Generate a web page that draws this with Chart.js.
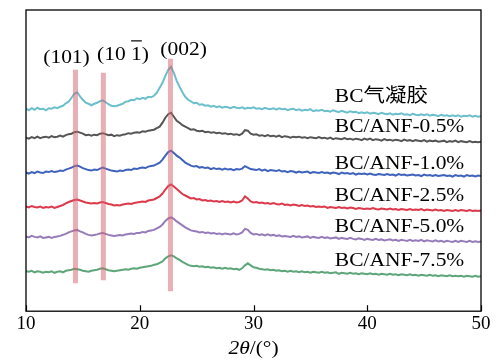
<!DOCTYPE html>
<html>
<head>
<meta charset="utf-8">
<script src="https://cdn.jsdelivr.net/npm/chart.js@4.4.1/dist/chart.umd.min.js"></script>
<style>
  html, body { margin: 0; padding: 0; background: #fff; }
  #wrap { width: 496px; height: 360px; }
</style>
</head>
<body>
<div id="wrap"><canvas id="xrd" width="496" height="360"></canvas></div>
<script>
// 2θ sampling grid (degrees), 0.25° step
const angles = [
  10, 10.25, 10.5, 10.75, 11, 11.25, 11.5, 11.75,
  12, 12.25, 12.5, 12.75, 13, 13.25, 13.5, 13.75,
  14, 14.25, 14.5, 14.75, 15, 15.25, 15.5, 15.75,
  16, 16.25, 16.5, 16.75, 17, 17.25, 17.5, 17.75,
  18, 18.25, 18.5, 18.75, 19, 19.25, 19.5, 19.75,
  20, 20.25, 20.5, 20.75, 21, 21.25, 21.5, 21.75,
  22, 22.25, 22.5, 22.75, 23, 23.25, 23.5, 23.75,
  24, 24.25, 24.5, 24.75, 25, 25.25, 25.5, 25.75,
  26, 26.25, 26.5, 26.75, 27, 27.25, 27.5, 27.75,
  28, 28.25, 28.5, 28.75, 29, 29.25, 29.5, 29.75,
  30, 30.25, 30.5, 30.75, 31, 31.25, 31.5, 31.75,
  32, 32.25, 32.5, 32.75, 33, 33.25, 33.5, 33.75,
  34, 34.25, 34.5, 34.75, 35, 35.25, 35.5, 35.75,
  36, 36.25, 36.5, 36.75, 37, 37.25, 37.5, 37.75,
  38, 38.25, 38.5, 38.75, 39, 39.25, 39.5, 39.75,
  40, 40.25, 40.5, 40.75, 41, 41.25, 41.5, 41.75,
  42, 42.25, 42.5, 42.75, 43, 43.25, 43.5, 43.75,
  44, 44.25, 44.5, 44.75, 45, 45.25, 45.5, 45.75,
  46, 46.25, 46.5, 46.75, 47, 47.25, 47.5, 47.75,
  48, 48.25, 48.5, 48.75, 49, 49.25, 49.5, 49.75,
  50
];

// Stacked XRD patterns (intensity, a.u., each curve offset vertically)
const bcAerogel = [
  203, 201.5, 203.5, 202, 204, 202.5, 203, 201.5,
  203.5, 203, 204.5, 203.5, 205, 206, 208.5, 210,
  214, 218, 219.5, 215.5, 212, 209, 208, 206.5,
  208, 209, 210.5, 211.5, 209.5, 207.5, 206, 205.5,
  206, 207, 208, 210, 210.5, 212, 211.5, 213.5,
  212.5, 214, 213, 215, 214.5, 216, 219, 224,
  229, 236, 242, 245, 239, 231, 225, 219.5,
  215, 212, 210.5, 208.5, 209, 207, 207.5, 206,
  206.5, 205, 206, 204.5, 205.5, 204, 205, 204.5,
  203.5, 205, 204, 203.5, 204.5, 203, 204, 203.5,
  204.5, 203, 203.5, 202.5, 204, 203, 202.5, 203.5,
  202, 203.5, 202.5, 203, 201.5, 202.5, 203, 201.5,
  202.5, 201, 202, 201.5, 202.5, 200.5, 201.5, 201,
  202, 200.5, 201, 200, 201.5, 200.5, 199.5, 201,
  200, 199, 200.5, 199.5, 200, 198.5, 199.5, 198.5,
  199.5, 198, 199, 198.5, 197.5, 199, 198, 197.5,
  198.5, 197, 198, 197.5, 198.5, 197, 197.5, 196.5,
  198, 197, 196.5, 197.5, 196.5, 197.5, 196, 197,
  196.5, 195.5, 197, 196, 196.5, 195.5, 196.5, 195.5,
  196.5, 195, 196, 195.5, 196.5, 195, 196, 195,
  195.5
];
const anf05 = [
  174, 173, 174.5, 173.5, 175, 173.5, 174.5, 175,
  174, 175.5, 174.5, 175, 176, 175, 176.5, 177.5,
  178, 179.5, 180, 179, 178, 176.5, 177, 176,
  177, 176.5, 178, 178.5, 177.5, 176.5, 177, 175.5,
  176.5, 176, 177, 177.5, 178.5, 178, 179, 179.5,
  179, 180.5, 180, 181, 181.5, 182, 183.5, 185,
  189, 194, 197.5, 199, 195, 191, 189, 186.5,
  185, 183.5, 182, 182.5, 181, 180.5, 181, 179.5,
  180, 179, 179.5, 178.5, 179, 178, 178.5, 177.5,
  178, 177, 177.5, 176.5, 178, 181.5, 181, 178,
  177, 177.5, 176, 176.5, 175.5, 176.5, 175.5, 176,
  175, 176, 174.5, 175.5, 175, 174, 175, 174.5,
  175, 174, 174.5, 173.5, 174.5, 174, 173.5, 174.5,
  173.5, 174, 173, 174, 172.5, 173.5, 173, 172.5,
  173.5, 172.5, 173, 172, 173, 172.5, 171.5, 173,
  172, 173, 171.5, 172.5, 172, 171, 172.5, 171.5,
  172, 171, 172, 171.5, 170.5, 172, 171, 171.5,
  170.5, 171.5, 171, 170.5, 171.5, 170, 171, 170.5,
  171, 170, 170.5, 171, 169.5, 170.5, 170, 171,
  169.5, 170.5, 170, 169.5, 170.5, 169.5, 170, 169.5,
  170
];
const anf10 = [
  139, 138, 139.5, 138.5, 140, 139, 138.5, 140,
  139.5, 140.5, 139.5, 140, 141, 140.5, 142, 143,
  144, 145.5, 146, 145, 143.5, 142.5, 141.5, 141,
  142, 141.5, 143, 144, 143, 142, 141, 140.5,
  140, 141, 140.5, 141.5, 142, 141.5, 143, 142.5,
  143.5, 144, 143.5, 145, 145.5, 146, 147.5, 149,
  152, 156, 159.5, 161, 158.5, 156, 154, 151.5,
  149, 147.5, 146, 145, 145.5, 144, 144.5, 143.5,
  144, 142.5, 143.5, 142.5, 143, 142, 143, 142,
  142.5, 141.5, 142.5, 142, 143, 145.5, 144, 142.5,
  142, 141.5, 142.5, 141, 142, 140.5, 141.5, 141,
  140.5, 141.5, 140, 140.5, 139.5, 140.5, 140, 139,
  140, 139, 139.5, 140, 138.5, 139.5, 139, 138.5,
  139.5, 138.5, 139, 138, 139, 138.5, 137.5, 139,
  138, 138.5, 137.5, 138.5, 137, 138, 137.5, 138,
  137, 138, 137, 136.5, 137.5, 137, 136.5, 137.5,
  136.5, 137, 136, 137.5, 136.5, 137, 136, 136.5,
  137, 136, 136.5, 135.5, 137, 136, 136.5, 135.5,
  136.5, 135.5, 136, 136.5, 135.5, 136, 135, 136.5,
  135.5, 136, 135, 136.5, 135.5, 136, 135, 136,
  135.5
];
const anf25 = [
  105, 104, 105.5, 104.5, 104, 105, 103.5, 104.5,
  104, 105, 103.5, 104.5, 105.5, 106.5, 108, 109.5,
  110.5, 111.5, 112, 111, 110, 109, 108.5, 108,
  108.5, 108, 109, 109.5, 108.5, 107.5, 107, 106,
  106.5, 106, 107, 107.5, 108, 107.5, 108.5, 109,
  109.5, 110, 109.5, 111, 111.5, 112, 113.5, 115,
  118, 122, 125.5, 127, 125, 122.5, 120, 117.5,
  116, 114.5, 113, 113.5, 112, 112.5, 111, 111.5,
  110.5, 111, 110, 110.5, 109.5, 110.5, 109.5, 110,
  109, 110, 109, 109.5, 111, 115, 113, 110,
  109, 109.5, 108.5, 109, 108, 108.5, 107.5, 108.5,
  107.5, 107, 108, 106.5, 107, 106, 107, 106.5,
  105.5, 106.5, 105.5, 106, 105, 105.5, 104.5, 105,
  104.5, 105, 103.5, 104.5, 104, 103.5, 104.5, 103.5,
  104, 103, 104, 103.5, 102.5, 103.5, 103, 102.5,
  103, 102.5, 103.5, 102.5, 102, 103, 102.5, 102,
  103, 102, 102.5, 101.5, 102.5, 102, 101.5, 102.5,
  101.5, 102, 101.5, 102.5, 101, 102, 101.5, 101,
  102, 101, 101.5, 100.5, 101.5, 101, 100.5, 101.5,
  100.5, 101.5, 101, 100.5, 101.5, 100.5, 101, 100.5,
  101
];
const anf50 = [
  75, 74, 75.5, 74.5, 74, 75, 73.5, 74,
  74.5, 73.5, 74.5, 75, 75.5, 76.5, 77.5, 79,
  80, 81, 81.5, 80, 79, 77.5, 76.5, 76,
  76.5, 77, 78, 78.5, 77.5, 76.5, 76, 75.5,
  76, 76.5, 76, 77, 77.5, 78, 77.5, 78.5,
  78.5, 79.5, 79, 80.5, 81, 81.5, 83, 84.5,
  87, 90.5, 93, 94, 92.5, 90, 88, 86,
  84, 82.5, 81, 80.5, 80, 79, 79.5, 78.5,
  79, 78, 78.5, 77.5, 78, 77, 78, 77.5,
  77, 78, 77, 77.5, 79, 82.5, 81.5, 78.5,
  77, 77.5, 76.5, 77, 76, 77, 76, 76.5,
  75.5, 76, 75, 75.5, 75, 74.5, 75.5, 74.5,
  75, 74, 74.5, 75, 73.5, 74.5, 74, 73.5,
  74.5, 73.5, 74, 73, 73.5, 74, 72.5, 73.5,
  73, 72.5, 73.5, 72.5, 72, 73, 72.5, 71.5,
  72.5, 72, 71.5, 72.5, 71.5, 72, 71, 71.5,
  72, 71, 71.5, 70.5, 71.5, 71, 70.5, 71.5,
  70.5, 71, 70.5, 71.5, 70, 71, 70.5, 70,
  71, 70, 70.5, 69.5, 70.5, 70, 69.5, 70.5,
  69.5, 70.5, 70, 69.5, 70.5, 69.5, 70, 69.5,
  70
];
const anf75 = [
  40, 39.5, 40.5, 39, 40, 39.5, 38.5, 39.5,
  39, 40, 38.5, 39.5, 40, 39, 40.5, 41,
  41.5, 42.5, 42, 41.5, 40.5, 40, 39.5, 40.5,
  41, 41.5, 42.5, 43, 42, 41, 40.5, 40,
  40.5, 41, 41.5, 42, 41.5, 42.5, 43, 42.5,
  43.5, 44, 44.5, 45, 45.5, 46.5, 47, 48.5,
  50, 53, 55, 56, 55, 53, 51.5, 49.5,
  48, 46.5, 45.5, 45, 45.5, 44.5, 45, 44,
  44.5, 43.5, 44, 43, 43.5, 42.5, 43.5, 42.5,
  43, 42, 42.5, 41.5, 43, 46, 48, 46,
  44, 43.5, 42.5, 42, 41.5, 42, 41, 41.5,
  40.5, 41, 40, 40.5, 39.5, 40.5, 39.5, 40,
  39, 40, 39, 39.5, 38.5, 39.5, 39, 38.5,
  39.5, 38.5, 39, 38, 38.5, 39, 37.5, 38.5,
  38, 37.5, 38.5, 37.5, 38, 37, 38, 37.5,
  37, 38, 37, 37.5, 36.5, 37.5, 37, 36.5,
  37.5, 36.5, 37, 36, 37, 36.5, 36, 37,
  36, 36.5, 35.5, 36.5, 36, 35.5, 36.5, 35.5,
  36, 35, 36, 35.5, 35, 36, 35, 35.5,
  35, 35.5, 34.5, 35.5, 35, 34.5, 35.5, 34.5,
  35
];

const seriesNames = ['BC气凝胶', 'BC/ANF-0.5%', 'BC/ANF-1.0%', 'BC/ANF-2.5%', 'BC/ANF-5.0%', 'BC/ANF-7.5%'];
const seriesValues = [bcAerogel, anf05, anf10, anf25, anf50, anf75];
const seriesColors = ['#6cbfcc', '#555555', '#3f63bd', '#dc3a4c', '#967bbb', '#5ea679'];

// Cellulose I reflections: position and marker extent
const peakNames = ['(101)', '(10 1)', '(002)'];
const peakAngles = [14.35, 16.8, 22.7];
const peakTop = [242, 239, 253];
const peakBottom = [28, 31, 20];

const xTicks = [10, 20, 30, 40, 50];

const serif = '"Liberation Serif", "Times New Roman", "Noto Sans CJK SC", serif';
const STRETCH = 1.13;

function drawText(ctx, text, x, y, size, align, italic) {
  ctx.save();
  ctx.font = (italic ? 'italic ' : '') + size + 'px ' + serif;
  ctx.translate(x, y);
  ctx.scale(STRETCH, 1);
  ctx.textAlign = align;
  ctx.textBaseline = 'middle';
  ctx.fillStyle = '#000';
  ctx.fillText(text, 0, 0);
  ctx.restore();
}

const datasets = [];
peakAngles.forEach((a, i) => {
  datasets.push({
    data: [{ x: a, y: peakBottom[i] }, { x: a, y: peakTop[i] }],
    borderColor: 'rgba(212, 96, 108, 0.5)',
    borderWidth: 5,
    borderCapStyle: 'butt',
    pointRadius: 0,
    order: 0
  });
});
seriesValues.forEach((vals, i) => {
  datasets.push({
    label: seriesNames[i],
    data: angles.map((a, j) => ({ x: a, y: vals[j] })),
    borderColor: seriesColors[i],
    borderWidth: 2,
    pointRadius: 0,
    tension: 0,
    order: 1
  });
});

const framePlugin = {
  id: 'frame',
  afterDraw(chart) {
    const { ctx, chartArea: ca, scales } = chart;
    const xs = scales.x, ys = scales.y;
    ctx.save();
    // box
    ctx.strokeStyle = '#000';
    ctx.lineWidth = 1.3;
    ctx.strokeRect(ca.left, ca.top, ca.right - ca.left, ca.bottom - ca.top);
    // inward ticks on the 2θ axis
    ctx.lineWidth = 1.2;
    xTicks.forEach(t => {
      const px = Math.round(xs.getPixelForValue(t)) + 0.5;
      ctx.beginPath();
      ctx.moveTo(px, ca.bottom);
      ctx.lineTo(px, ca.bottom - 6);
      ctx.stroke();
    });
    ctx.restore();

    // reflection labels
    const peakLabelPos = [[13.56, 254], [18.53, 257], [23.85, 262]];
    peakNames.forEach((name, i) => {
      const x = xs.getPixelForValue(peakLabelPos[i][0]);
      const y = ys.getPixelForValue(peakLabelPos[i][1]);
      drawText(ctx, name, x, y, 19, 'center', false);
    });
    // overbar on the 1 of (10 1)
    ctx.save();
    ctx.font = '19px ' + serif;
    const full = ctx.measureText(peakNames[1]).width;
    const pre = ctx.measureText('(10 ').width;
    const one = ctx.measureText('1').width;
    const cx = xs.getPixelForValue(peakLabelPos[1][0]);
    const cy = ys.getPixelForValue(peakLabelPos[1][1]);
    const x0 = cx + (-full / 2 + pre) * STRETCH;
    ctx.strokeStyle = '#000';
    ctx.lineWidth = 1.2;
    ctx.beginPath();
    ctx.moveTo(x0, cy - 14);
    ctx.lineTo(x0 + one * STRETCH, cy - 14);
    ctx.stroke();
    ctx.restore();

    // series names
    const nameY = [215, 185, 148, 115, 84, 50];
    seriesNames.forEach((name, i) => {
      drawText(ctx, name, xs.getPixelForValue(37.15), ys.getPixelForValue(nameY[i]), 19, 'left', false);
    });

    // axis title: 2θ/(°)
    ctx.save();
    ctx.font = 'italic 19px ' + serif;
    const w1 = ctx.measureText('2θ').width;
    ctx.font = '19px ' + serif;
    const w2 = ctx.measureText('/(°)').width;
    ctx.restore();
    const total = (w1 + w2) * STRETCH;
    const tx = (ca.left + ca.right) / 2 - total / 2;
    const ty = 349;
    drawText(ctx, '2θ', tx, ty, 19, 'left', true);
    drawText(ctx, '/(°)', tx + w1 * STRETCH, ty, 19, 'left', false);
  }
};

new Chart(document.getElementById('xrd'), {
  type: 'line',
  data: { datasets },
  options: {
    responsive: false,
    animation: false,
    devicePixelRatio: 1,
    layout: { padding: { left: 26, right: 15, top: 10, bottom: 24 } },
    plugins: { legend: { display: false }, tooltip: { enabled: false } },
    scales: {
      x: {
        type: 'linear',
        min: 10,
        max: 50,
        afterBuildTicks: (scale) => { scale.ticks = xTicks.map(v => ({ value: v })); },
        ticks: { color: '#000', font: { family: serif, size: 19 }, padding: 1, maxRotation: 0 },
        grid: { display: false, drawTicks: false },
        border: { display: false }
      },
      y: {
        type: 'linear',
        display: false,
        min: 0,
        max: 302
      }
    }
  },
  plugins: [framePlugin]
});
</script>
</body>
</html>
